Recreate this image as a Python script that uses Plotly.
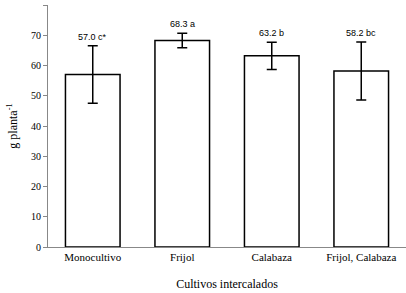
import plotly.graph_objects as go

categories = ["Monocultivo", "Frijol", "Calabaza", "Frijol, Calabaza"]
values = [57.0, 68.3, 63.2, 58.2]
errors = [9.5, 2.4, 4.5, 9.6]
labels = ["57.0 c*", "68.3 a", "63.2 b", "58.2 bc"]
y_ticks = [0, 10, 20, 30, 40, 50, 60, 70, 80]

SERIF = "Times New Roman, Liberation Serif, serif"
SANS = "Liberation Sans, Arial, sans-serif"

fig = go.Figure()
fig.add_trace(go.Bar(
    x=categories, y=values, width=0.61,
    marker=dict(color="white", line=dict(color="black", width=1.5)),
    error_y=dict(type="data", array=errors, visible=True, color="black", thickness=1.5, width=5),
))
for c, v, e, t in zip(categories, values, errors, labels):
    fig.add_annotation(x=c, y=v + e, text=t, showarrow=False, yanchor="bottom", yshift=2,
                       font=dict(family=SANS, size=9, color="black"))

fig.update_layout(
    width=406, height=293, margin=dict(l=48, r=0, t=5, b=46),
    plot_bgcolor="white", paper_bgcolor="white", showlegend=False,
    font=dict(family=SERIF, size=10, color="black"),
)
fig.update_xaxes(showline=True, linecolor="#888888", linewidth=1, ticks="", showgrid=False,
                 title=dict(text="Cultivos intercalados", font=dict(family=SERIF, size=12, color="black"), standoff=17),
                 tickfont=dict(family=SERIF, size=11, color="black"), range=[-0.5, 3.5])
fig.update_yaxes(range=[0, 80], tickvals=y_ticks, showline=True, linecolor="#888888", linewidth=1,
                 ticks="outside", ticklen=4, tickcolor="#888888", showgrid=False, zeroline=False,
                 title=dict(text="g planta<sup>-1</sup>", font=dict(family=SERIF, size=12, color="black"), standoff=10),
                 tickfont=dict(family=SERIF, size=10, color="black"))
fig.write_html("out.html", config={"displayModeBar": False},
               post_script="document.body.style.margin='0';")
